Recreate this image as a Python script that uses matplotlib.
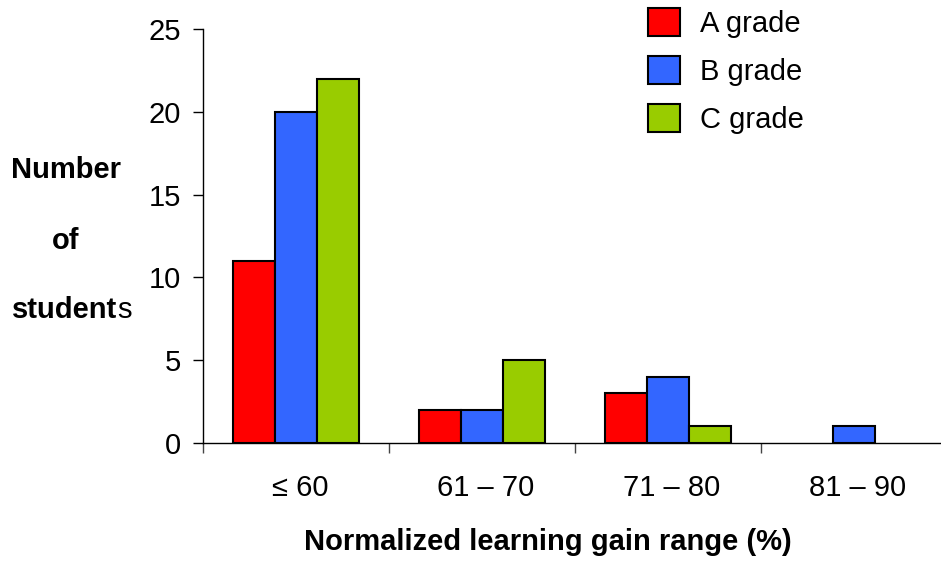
import numpy as np
import matplotlib
matplotlib.use("Agg")
from matplotlib import pyplot as plt
from matplotlib.patches import Patch
from matplotlib.transforms import ScaledTranslation

plt.rcParams['font.family'] = ['Liberation Sans', 'DejaVu Sans']

# data
categories = ['\u2264 60', '61 \u2013 70', '71 \u2013 80', '81 \u2013 90']
grade_a = [11, 2, 3, 0]
grade_b = [20, 2, 4, 1]
grade_c = [22, 5, 1, 0]
series_names = ['A grade', 'B grade', 'C grade']
colors = ['#FF0000', '#3366FF', '#99CC00']

W, H = 941, 562
FS = 21
fig = plt.figure(figsize=(W / 100, H / 100), dpi=100)
ax = fig.add_axes([203 / W, 1 - 443 / H, 738 / W, 414 / H])

x = np.arange(len(categories)) + 0.5
bw = 42 / 186
for k, (vals, col, name) in enumerate(zip([grade_a, grade_b, grade_c], colors, series_names)):
    vals = np.array(vals, dtype=float)
    keep = vals > 0
    ax.bar(x[keep] + (k - 1) * bw, vals[keep], width=bw, color=col,
           edgecolor='black', linewidth=1.5, label=name)

ax.set_xlim(0, 738 / 186)
ax.set_ylim(0, 25)
ax.set_yticks([0, 5, 10, 15, 20, 25])
ax.set_xticks(x)
ax.set_xticklabels(categories)
ax.set_xticks(np.arange(len(categories)), minor=True)
ax.tick_params(axis='x', which='major', length=0, pad=22, labelsize=FS)
ax.tick_params(axis='x', which='minor', length=7, width=1, color='#444444')
ax.tick_params(axis='y', length=7, width=1, pad=9, labelsize=FS)
# category labels sit a few pixels right of the group centre
shift = ScaledTranslation(4 / 100, 0, fig.dpi_scale_trans)
for lab in ax.get_xticklabels():
    lab.set_transform(lab.get_transform() + shift)
for s in ['top', 'right']:
    ax.spines[s].set_visible(False)
for s in ['left', 'bottom']:
    ax.spines[s].set_linewidth(1.0)

# legend in the top right
handles = [Patch(facecolor=c, edgecolor='black', linewidth=1.5) for c in colors]
fig.legend(handles, series_names, loc='upper left',
           bbox_to_anchor=(648 / W, 1 - 8 / H), frameon=False, fontsize=FS,
           handlelength=1.1, handleheight=1.1, labelspacing=0.62,
           handletextpad=0.68, borderpad=0, borderaxespad=0)

# y label stacked on the left
fig.text(66 / W, 1 - 170 / H, 'Number', fontsize=FS, fontweight='bold', ha='center', va='center')
fig.text(66 / W, 1 - 241 / H, 'of', fontsize=FS, fontweight='bold', ha='center', va='center')
t = fig.text(12 / W, 1 - 310 / H, 'student', fontsize=FS, fontweight='bold', ha='left', va='center')
fig.canvas.draw()
bb = t.get_window_extent()
fig.text(bb.x1 / W, 1 - 310 / H, 's', fontsize=FS, ha='left', va='center')

fig.text(548 / W, 1 - 542 / H, 'Normalized learning gain range (%)', fontsize=FS,
         fontweight='bold', ha='center', va='center')

fig.savefig('out.png', dpi=100)
